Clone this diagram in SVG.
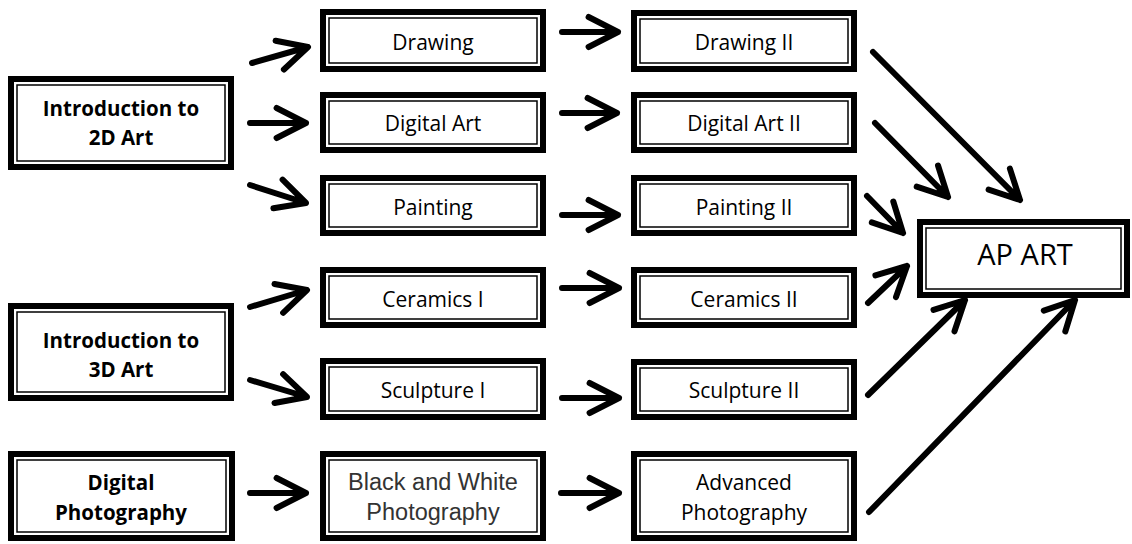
<svg xmlns="http://www.w3.org/2000/svg" width="1132" height="544" viewBox="0 0 1132 544">
<style>
.o{fill:#fff;stroke:#000;stroke-width:6}
.i{fill:none;stroke:#000;stroke-width:1.5}
.t{font-family:'Open Sans','Liberation Sans',sans-serif;font-size:21px;text-anchor:middle;fill:#000}
.b{font-weight:bold;font-size:20.5px}
.a{font-family:'Liberation Sans',Arial,sans-serif;font-size:23.5px;text-anchor:middle;fill:#333}
.ar{fill:none;stroke:#000;stroke-width:6;stroke-linecap:round;stroke-linejoin:round}
</style>
<rect width="1132" height="544" fill="#fff"/>
<g id="connectors">
<path class="ar" d="M252 63L308 47M283.9 69.5L308 47L275.6 40.7"/>
<path class="ar" d="M562 32L618 32M588.6 17L618 32L588.6 47"/>
<path class="ar" d="M250 123L306 123M276.6 108L306 123L276.6 138"/>
<path class="ar" d="M562 113L617 113M587.6 98L617 113L587.6 128"/>
<path class="ar" d="M250 185L306 203M273.4 208.3L306 203L282.6 179.7"/>
<path class="ar" d="M562 215L618 215M588.6 200L618 215L588.6 230"/>
<path class="ar" d="M250 307L307 290M283.1 312.8L307 290L274.5 284"/>
<path class="ar" d="M562 288L619 288M589.6 273L619 288L589.6 303"/>
<path class="ar" d="M250 380L307 397M274.5 403L307 397L283.1 374.2"/>
<path class="ar" d="M562 398L619 398M589.6 383L619 398L589.6 413"/>
<path class="ar" d="M250 493L306 493M276.6 478L306 493L276.6 508"/>
<path class="ar" d="M561 493L619 493M589.6 478L619 493L589.6 508"/>
<path class="ar" d="M873 52L1020 200M988.6 189.7L1020 200L1009.9 168.6"/>
<path class="ar" d="M875 123L948 197M916.7 186.6L948 197L938 165.5"/>
<path class="ar" d="M867 196L903 233M871.8 222.4L903 233L893.3 201.5"/>
<path class="ar" d="M868 303L907 266M896 297.1L907 266L875.4 275.4"/>
<path class="ar" d="M868 395L965 300M954.5 331.3L965 300L933.5 309.9"/>
<path class="ar" d="M869 512L1075 300M1065.3 331.5L1075 300L1043.8 310.6"/>
</g>
<g id="intro2d"><rect class="o" x="11" y="79" width="220" height="88"/><rect class="i" x="17" y="85" width="208" height="76"/><text class="t b" x="121" y="116">Introduction to</text><text class="t b" x="121" y="145">2D Art</text></g>
<g id="drawing"><rect class="o" x="323" y="12" width="220" height="57"/><rect class="i" x="329" y="18" width="208" height="45"/><text class="t" x="433" y="50">Drawing</text></g>
<g id="drawing2"><rect class="o" x="634" y="13" width="220" height="56"/><rect class="i" x="640" y="19" width="208" height="44"/><text class="t" x="744" y="50">Drawing II</text></g>
<g id="digital"><rect class="o" x="323" y="95" width="220" height="55"/><rect class="i" x="329" y="101" width="208" height="43"/><text class="t" x="433" y="131">Digital Art</text></g>
<g id="digital2"><rect class="o" x="634" y="95" width="220" height="55"/><rect class="i" x="640" y="101" width="208" height="43"/><text class="t" x="744" y="131">Digital Art II</text></g>
<g id="painting"><rect class="o" x="323" y="178" width="220" height="55"/><rect class="i" x="329" y="184" width="208" height="43"/><text class="t" x="433" y="214.5">Painting</text></g>
<g id="painting2"><rect class="o" x="634" y="178" width="220" height="55"/><rect class="i" x="640" y="184" width="208" height="43"/><text class="t" x="744" y="214.5">Painting II</text></g>
<g id="intro3d"><rect class="o" x="11" y="306" width="220" height="92"/><rect class="i" x="17" y="312" width="208" height="80"/><text class="t b" x="121" y="348">Introduction to</text><text class="t b" x="121" y="377">3D Art</text></g>
<g id="ceramics"><rect class="o" x="323" y="270" width="220" height="55"/><rect class="i" x="329" y="276" width="208" height="43"/><text class="t" x="433" y="306.5">Ceramics I</text></g>
<g id="ceramics2"><rect class="o" x="634" y="270" width="220" height="55"/><rect class="i" x="640" y="276" width="208" height="43"/><text class="t" x="744" y="306.5">Ceramics II</text></g>
<g id="sculpture"><rect class="o" x="323" y="361" width="220" height="56"/><rect class="i" x="329" y="367" width="208" height="44"/><text class="t" x="433" y="398">Sculpture I</text></g>
<g id="sculpture2"><rect class="o" x="634" y="362" width="220" height="55"/><rect class="i" x="640" y="368" width="208" height="43"/><text class="t" x="744" y="398">Sculpture II</text></g>
<g id="digphoto"><rect class="o" x="11" y="454" width="221" height="84"/><rect class="i" x="17" y="460" width="209" height="72"/><text class="t b" x="121" y="490">Digital</text><text class="t b" x="121" y="520">Photography</text></g>
<g id="bw"><rect class="o" x="323" y="454" width="220" height="84"/><rect class="i" x="329" y="460" width="208" height="72"/><text class="a" x="433" y="490">Black and White</text><text class="a" x="433" y="520">Photography</text></g>
<g id="advphoto"><rect class="o" x="634" y="454" width="220" height="84"/><rect class="i" x="640" y="460" width="208" height="72"/><text class="t" x="744" y="490">Advanced</text><text class="t" x="744" y="520">Photography</text></g>
<g id="apart"><rect class="o" x="920" y="222" width="207" height="73"/><rect class="i" x="926" y="228" width="195" height="61"/><text class="t" x="1025" y="265" style="font-size:29px">AP ART</text></g>
</svg>
